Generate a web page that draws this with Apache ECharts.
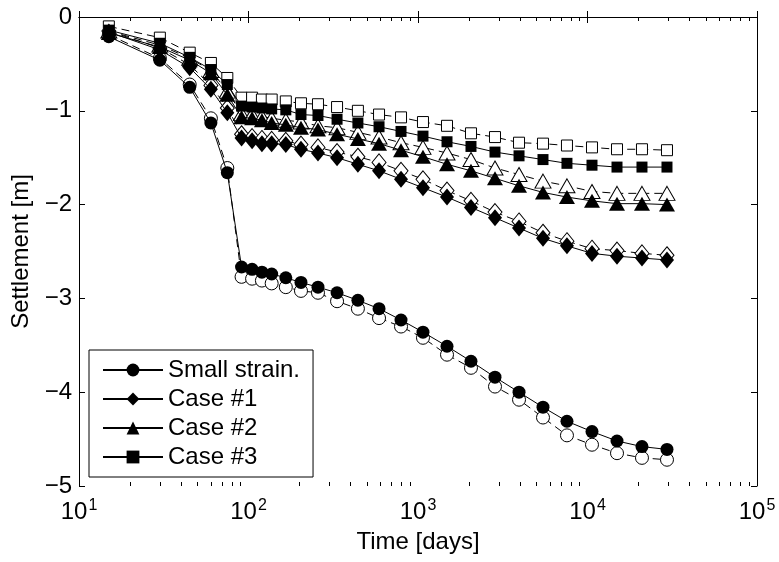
<!DOCTYPE html>
<html>
<head>
<meta charset="utf-8">
<script src="https://cdn.jsdelivr.net/npm/echarts@6/dist/echarts.min.js"></script>
<style>
  html, body { margin: 0; padding: 0; background: #fff; }
  #main { width: 779px; height: 562px; }
</style>
</head>
<body>
<div id="main"></div>
<script>
// time axis shared by every series [days]
var days = [15, 30, 45, 60, 75, 91, 105, 120, 137, 166, 204, 257, 333, 442, 589, 794,
  1070, 1483, 2054, 2846, 3945, 5463, 7565, 10630, 14930, 20960, 29440];

// settlement [m], filled markers
var smallStrain = [-0.21, -0.46, -0.75, -1.13, -1.66, -2.665, -2.69, -2.72, -2.74, -2.78, -2.83, -2.88, -2.94,
  -3.02, -3.11, -3.23, -3.36, -3.51, -3.67, -3.84, -4.0, -4.16, -4.31, -4.42, -4.52, -4.58, -4.61];
var case1 = [-0.16, -0.35, -0.54, -0.77, -1.02, -1.29, -1.32, -1.35, -1.35, -1.36, -1.41, -1.45, -1.50,
  -1.57, -1.64, -1.73, -1.82, -1.92, -2.03, -2.14, -2.25, -2.36, -2.44, -2.52, -2.55, -2.57, -2.59];
var case2 = [-0.17, -0.32, -0.46, -0.60, -0.83, -1.07, -1.08, -1.10, -1.13, -1.15, -1.18, -1.20, -1.25,
  -1.30, -1.35, -1.42, -1.49, -1.57, -1.64, -1.72, -1.80, -1.87, -1.92, -1.96, -1.99, -1.99, -2.00];
var case3 = [-0.14, -0.28, -0.43, -0.56, -0.72, -0.95, -0.96, -0.97, -0.98, -0.99, -1.04, -1.05, -1.09,
  -1.13, -1.17, -1.22, -1.27, -1.33, -1.38, -1.44, -1.48, -1.52, -1.56, -1.58, -1.60, -1.60, -1.60];

// settlement [m], open markers (dashed)
var smallStrainOpen = [-0.19, -0.44, -0.72, -1.08, -1.61, -2.77, -2.79, -2.81, -2.84, -2.88, -2.92, -2.94, -3.03,
  -3.11, -3.21, -3.30, -3.42, -3.60, -3.74, -3.94, -4.08, -4.27, -4.46, -4.56, -4.65, -4.70, -4.72];
var case1Open = [-0.15, -0.33, -0.51, -0.73, -0.97, -1.25, -1.28, -1.30, -1.31, -1.32, -1.36, -1.39, -1.44,
  -1.49, -1.55, -1.64, -1.73, -1.85, -1.96, -2.08, -2.18, -2.30, -2.39, -2.47, -2.49, -2.52, -2.54];
var case2Open = [-0.15, -0.30, -0.44, -0.57, -0.79, -1.03, -1.04, -1.06, -1.08, -1.10, -1.12, -1.16, -1.18,
  -1.23, -1.28, -1.34, -1.39, -1.45, -1.52, -1.61, -1.68, -1.75, -1.80, -1.86, -1.88, -1.88, -1.88];
var case3Open = [-0.10, -0.22, -0.38, -0.49, -0.65, -0.86, -0.86, -0.88, -0.88, -0.90, -0.92, -0.93, -0.96,
  -1.00, -1.04, -1.07, -1.12, -1.16, -1.24, -1.28, -1.34, -1.35, -1.37, -1.39, -1.41, -1.41, -1.42];

var seriesNames = ['Small strain.', 'Case #1', 'Case #2', 'Case #3'];

// minor ticks 2..9 of every decade (in log10 units)
var minorTicks = [];
[10, 100, 1000, 10000].forEach(function (d) {
  for (var k = 2; k <= 9; k++) minorTicks.push(Math.log10(k * d));
});

var FONT = '"Liberation Sans", Arial, Helvetica, sans-serif';
var FS = 24;

function pairs(ys) {
  return ys.map(function (y, i) { return [days[i], y]; });
}

function filled(name, ys, symbol, size) {
  return {
    name: name, type: 'line', data: pairs(ys),
    symbol: symbol, symbolSize: size,
    itemStyle: { color: '#000' },
    lineStyle: { color: '#000', width: 1 },
    z: 3
  };
}

function open(name, ys, symbol, size) {
  return {
    name: name, type: 'line', data: pairs(ys),
    symbol: symbol, symbolSize: size,
    itemStyle: { color: '#fff', borderColor: '#000', borderWidth: 1 },
    lineStyle: { color: '#000', width: 1, type: [8, 5] },
    z: 2
  };
}

var chart = echarts.init(document.getElementById('main'));

var majorX = {
  type: 'log', logBase: 10, min: 10, max: 100000,
  axisLine: { lineStyle: { color: '#000', width: 1 } },
  axisTick: { inside: true, length: 6, lineStyle: { color: '#000' } },
  splitLine: { show: false }
};
var minorX = {
  type: 'value', min: 1, max: 5,
  axisLine: { show: false },
  axisTick: { inside: true, length: 4, customValues: minorTicks, lineStyle: { color: '#000' } },
  axisLabel: { show: false },
  splitLine: { show: false }
};

chart.setOption({
  animation: false,
  backgroundColor: '#fff',
  textStyle: { fontFamily: FONT, color: '#000' },
  grid: { left: 79, right: 22, top: 17, bottom: 76, containLabel: false },
  legend: {
    data: seriesNames,
    orient: 'vertical',
    left: 89, top: 350,
    backgroundColor: '#fff',
    borderColor: '#000', borderWidth: 1, borderRadius: 0,
    padding: [8, 13, 8, 13],
    itemGap: 5,
    itemWidth: 60, itemHeight: 16,
    textStyle: { fontFamily: FONT, fontSize: FS, color: '#000' }
  },
  xAxis: [
    Object.assign({}, majorX, {
      position: 'bottom',
      name: 'Time [days]', nameLocation: 'middle', nameGap: 44,
      nameTextStyle: { fontFamily: FONT, fontSize: FS, color: '#000' },
      axisLabel: {
        margin: 12,
        formatter: function (v) {
          return '{b|10}{s|' + Math.round(Math.log10(v)) + '}';
        },
        rich: {
          b: { fontFamily: FONT, fontSize: FS, color: '#000' },
          s: { fontFamily: FONT, fontSize: 16, color: '#000', padding: [0, 0, 13, 1] }
        }
      }
    }),
    Object.assign({}, majorX, { position: 'top', axisLabel: { show: false } }),
    Object.assign({}, minorX, { position: 'bottom' }),
    Object.assign({}, minorX, { position: 'top' })
  ],
  yAxis: [
    {
      type: 'value', min: -5, max: 0, interval: 1, position: 'left',
      name: 'Settlement [m]', nameLocation: 'middle', nameGap: 37,
      nameTextStyle: { fontFamily: FONT, fontSize: FS, color: '#000' },
      axisLine: { lineStyle: { color: '#000', width: 1 } },
      axisTick: { inside: true, length: 6, lineStyle: { color: '#000' } },
      axisLabel: {
        margin: 7, fontFamily: FONT, fontSize: FS, color: '#000',
        formatter: function (v) { return String(v).replace('-', '\u2212'); }
      },
      splitLine: { show: false }
    },
    {
      type: 'value', min: -5, max: 0, interval: 1, position: 'right',
      axisLine: { lineStyle: { color: '#000', width: 1 } },
      axisTick: { inside: true, length: 6, lineStyle: { color: '#000' } },
      axisLabel: { show: false },
      splitLine: { show: false }
    }
  ],
  series: [
    open('Small strain. (open)', smallStrainOpen, 'circle', 13),
    open('Case #1 (open)', case1Open, 'diamond', [14, 17]),
    open('Case #2 (open)', case2Open, 'triangle', [16, 14]),
    open('Case #3 (open)', case3Open, 'rect', 11),
    filled(seriesNames[0], smallStrain, 'circle', 13),
    filled(seriesNames[1], case1, 'diamond', [14, 17]),
    filled(seriesNames[2], case2, 'triangle', [16, 14]),
    filled(seriesNames[3], case3, 'rect', 11)
  ]
});
</script>
</body>
</html>
